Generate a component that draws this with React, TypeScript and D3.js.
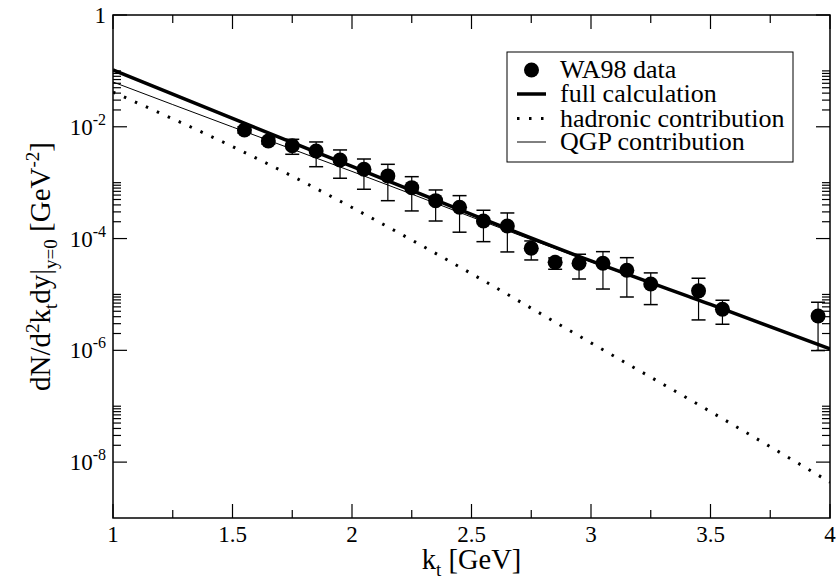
import React from 'react';
import * as d3 from 'd3';

// WA98 data points
const dataX = [1.55, 1.65, 1.75, 1.85, 1.95, 2.05, 2.15, 2.25, 2.35, 2.45, 2.55, 2.65, 2.75, 2.85, 2.95, 3.05, 3.15, 3.25, 3.45, 3.55, 3.95];
const dataY = [8.77e-3, 5.57e-3, 4.59e-3, 3.69e-3, 2.55e-3, 1.74e-3, 1.32e-3, 8.14e-4, 4.77e-4, 3.63e-4, 2.06e-4, 1.68e-4, 6.7e-5, 3.77e-5, 3.61e-5, 3.61e-5, 2.71e-5, 1.54e-5, 1.16e-5, 5.43e-6, 4.12e-6];
const errHi = [1.0e-2, 6.3e-3, 5.97e-3, 5.35e-3, 3.85e-3, 2.65e-3, 2.13e-3, 1.28e-3, 7.4e-4, 5.86e-4, 3.21e-4, 2.87e-4, 9.06e-5, 4.5e-5, 5.24e-5, 5.83e-5, 4.55e-5, 2.43e-5, 1.95e-5, 7.87e-6, 7.25e-6];
const errLo = [7.7e-3, 4.9e-3, 3.22e-3, 1.93e-3, 1.2e-3, 7.62e-4, 4.76e-4, 3.12e-4, 2.06e-4, 1.3e-4, 8.8e-5, 5.76e-5, 4.14e-5, 2.82e-5, 1.89e-5, 1.25e-5, 9.0e-6, 6.58e-6, 3.5e-6, 2.93e-6, 9.9e-7];

// Theory curves
const curveX = [1.0, 1.5, 2.0, 2.5, 3.0, 3.5, 4.0];
const fullY = [0.104, 0.01407, 1.95e-3, 2.70e-4, 3.97e-5, 6.62e-6, 1.06e-6];
const hadronicY = [0.0419, 4.42e-3, 3.60e-4, 2.35e-5, 1.36e-6, 8.0e-8, 4.37e-9];
const qgpY = [0.0633, 9.91e-3, 1.59e-3, 2.43e-4, 3.83e-5, 6.54e-6, 1.056e-6];

// Ticks
const xMajorTicks = [1, 1.5, 2, 2.5, 3, 3.5, 4];
const xMinorTicks = [1.25, 1.75, 2.25, 2.75, 3.25, 3.75];
const yMajorExps = [0, -2, -4, -6, -8];
const legendLabels = ['WA98 data', 'full calculation', 'hadronic contribution', 'QGP contribution'];

const W = 836;
const H = 582;
const left = 113, right = 830, top = 15, bottom = 518;
const FONT = 'Liberation Serif';

export default function App() {
  const x = d3.scaleLinear().domain([1, 4]).range([left, right]);
  const y = d3.scaleLog().domain([1e-9, 1]).range([bottom, top]);

  const yMinor: number[] = [];
  yMajorExps.forEach((e) => {
    for (let k = 2; k <= 10; k++) yMinor.push(k * Math.pow(10, e - 2));
  });
  const yMinorFiltered = yMinor.filter((v) => v > 1e-9 && v < 1);

  const line = d3
    .line<[number, number]>()
    .x((d) => x(d[0]))
    .y((d) => y(d[1]))
    .curve(d3.curveNatural);

  const fullPts = curveX.map((v, i) => [v, fullY[i]] as [number, number]);
  const hadPts = curveX.map((v, i) => [v, hadronicY[i]] as [number, number]);
  const qgpPts = curveX.map((v, i) => [v, qgpY[i]] as [number, number]);

  const majLen = 14;
  const minLen = 8;
  const capHalf = 7;
  const r = 7.5;

  const legX = 507, legY = 52, legW = 286, legH = 110;
  const rowY = [70, 94, 118.5, 142];
  const ts = { fontFamily: FONT };

  return (
    <svg width={W} height={H} style={{ position: 'absolute', left: 0, top: 0, background: '#fff' }}>
      <rect x={0} y={0} width={W} height={H} fill="#fff" />
      <defs>
        <clipPath id="plotclip">
          <rect x={left} y={top} width={right - left} height={bottom - top} />
        </clipPath>
      </defs>

      {/* curves */}
      <g clipPath="url(#plotclip)" fill="none" stroke="#000">
        <path d={line(qgpPts) || ''} strokeWidth={1} />
        <path d={line(hadPts) || ''} strokeWidth={3} strokeDasharray="2.5,9.5" />
        <path d={line(fullPts) || ''} strokeWidth={3.5} />
      </g>

      {/* error bars */}
      <g stroke="#000" strokeWidth={1.2}>
        {dataX.map((v, i) => (
          <g key={'e' + i}>
            <line x1={x(v)} x2={x(v)} y1={y(errHi[i])} y2={y(errLo[i])} />
            <line x1={x(v) - capHalf} x2={x(v) + capHalf} y1={y(errHi[i])} y2={y(errHi[i])} strokeWidth={1.5} />
            <line x1={x(v) - capHalf} x2={x(v) + capHalf} y1={y(errLo[i])} y2={y(errLo[i])} strokeWidth={1.5} />
          </g>
        ))}
      </g>
      {/* points */}
      <g fill="#000">
        {dataX.map((v, i) => (
          <circle key={'p' + i} cx={x(v)} cy={y(dataY[i])} r={r} />
        ))}
      </g>

      {/* frame */}
      <rect x={left} y={top} width={right - left} height={bottom - top} fill="none" stroke="#000" strokeWidth={1.5} />

      {/* ticks */}
      <g stroke="#000" strokeWidth={1.2}>
        {xMajorTicks.map((t) => (
          <g key={'xm' + t}>
            <line x1={x(t)} x2={x(t)} y1={bottom} y2={bottom - majLen} />
            <line x1={x(t)} x2={x(t)} y1={top} y2={top + majLen} />
          </g>
        ))}
        {xMinorTicks.map((t) => (
          <g key={'xn' + t}>
            <line x1={x(t)} x2={x(t)} y1={bottom} y2={bottom - minLen} />
            <line x1={x(t)} x2={x(t)} y1={top} y2={top + minLen} />
          </g>
        ))}
        {yMajorExps.map((e) => (
          <g key={'ym' + e}>
            <line x1={left} x2={left + majLen} y1={y(Math.pow(10, e))} y2={y(Math.pow(10, e))} />
            <line x1={right} x2={right - majLen} y1={y(Math.pow(10, e))} y2={y(Math.pow(10, e))} />
          </g>
        ))}
        {yMinorFiltered.map((v, i) => (
          <g key={'yn' + i}>
            <line x1={left} x2={left + minLen} y1={y(v)} y2={y(v)} />
            <line x1={right} x2={right - minLen} y1={y(v)} y2={y(v)} />
          </g>
        ))}
      </g>

      {/* x tick labels */}
      <g fontSize={23} textAnchor="middle" fill="#000" fontFamily={FONT}>
        {xMajorTicks.map((t) => (
          <text key={'xl' + t} style={ts} x={x(t)} y={542}>
            {d3.format('')(t)}
          </text>
        ))}
      </g>
      {/* y tick labels */}
      <g fontSize={23} textAnchor="end" fill="#000" fontFamily={FONT}>
        {yMajorExps.map((e) =>
          e === 0 ? (
            <text key={'yl' + e} style={ts} x={106} y={y(1) + 8}>1</text>
          ) : (
            <text key={'yl' + e} style={ts} x={106} y={y(Math.pow(10, e)) + 8}>
              10<tspan fontSize={16} dy={-10}>{'-' + Math.abs(e)}</tspan>
            </text>
          )
        )}
      </g>

      {/* axis titles */}
      <text style={ts} fontFamily={FONT} x={(left + right) / 2} y={569} fontSize={28.5} textAnchor="middle" fill="#000">
        k<tspan fontSize={19} dy={7}>t</tspan>
        <tspan dy={-7}>{' [GeV]'}</tspan>
      </text>
      <text style={ts} fontFamily={FONT} transform={`translate(50,${(top + bottom) / 2}) rotate(-90)`} fontSize={29} textAnchor="middle" fill="#000">
        dN/d<tspan fontSize={19} dy={-11}>2</tspan>
        <tspan dy={11}>k</tspan>
        <tspan fontSize={19} dy={7}>t</tspan>
        <tspan dy={-7}>dy|</tspan>
        <tspan fontSize={19} dy={7}>y=0</tspan>
        <tspan dy={-7}>{' [GeV'}</tspan>
        <tspan fontSize={19} dy={-11}>-2</tspan>
        <tspan dy={11}>]</tspan>
      </text>

      {/* legend */}
      <rect x={legX} y={legY} width={legW} height={legH} fill="#fff" stroke="#000" strokeWidth={1} />
      <circle cx={531.5} cy={rowY[0]} r={r} fill="#000" />
      <line x1={517} x2={546} y1={rowY[1]} y2={rowY[1]} stroke="#000" strokeWidth={3.5} />
      <line x1={517} x2={546} y1={rowY[2]} y2={rowY[2]} stroke="#000" strokeWidth={3} strokeDasharray="2.5,9.5" />
      <line x1={517} x2={546} y1={rowY[3]} y2={rowY[3]} stroke="#000" strokeWidth={1} />
      <g fontSize={26} fill="#000" fontFamily={FONT}>
        {legendLabels.map((l, i) => (
          <text key={l} style={ts} x={560} y={rowY[i] + 8}>{l}</text>
        ))}
      </g>
    </svg>
  );
}
